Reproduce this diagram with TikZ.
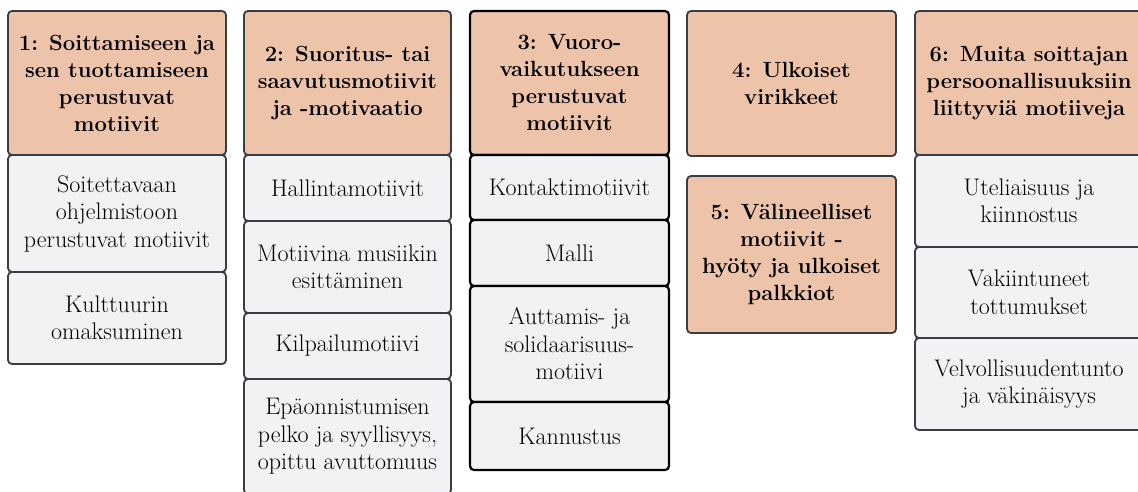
\documentclass[tikz,border=0pt]{standalone}
\definecolor{headfill}{HTML}{EDC3A9}
\definecolor{cellfill}{HTML}{F1F2F4}
\definecolor{edgegray}{HTML}{3A3E44}

\begin{document}
\begin{tikzpicture}[x=1pt, y=-1pt,
        box/.style={draw=edgegray, line width=1.8pt, rounded corners=4pt, align=center, inner sep=0pt},
        head/.style={box, fill=headfill, font=\fontsize{22}{27}\selectfont\bfseries},
        cell/.style={box, fill=cellfill, font=\fontsize{24}{27.5}\selectfont},
        dark/.style={draw=black, line width=2.2pt}]
            \fill[white] (0,0) rectangle (1138,491);
            \useasboundingbox (0,0) rectangle (1138,491);
            \node[head, minimum width=218pt, minimum height=144pt] (h1) at (117,83) {1: Soittamiseen ja\\sen tuottamiseen\\perustuvat\\motiivit};
            \node[cell, minimum width=218pt, minimum height=117pt] (c11) at (117,213.5) {Soitettavaan\\ohjelmistoon\\perustuvat motiivit};
            \node[cell, minimum width=218pt, minimum height=92pt] (c12) at (117,318) {Kulttuurin\\omaksuminen};
            \node[head, minimum width=207pt, minimum height=144pt] (h2) at (347.5,83) {2: Suoritus- tai\\saavutusmotiivit\\ja -motivaatio};
            \node[cell, minimum width=207pt, minimum height=66pt] (c21) at (347.5,188) {Hallintamotiivit};
            \node[cell, minimum width=207pt, minimum height=92pt] (c22) at (347.5,267) {Motiivina musiikin\\esittäminen};
            \node[cell, minimum width=207pt, minimum height=66pt] (c23) at (347.5,346) {Kilpailumotiivi};
            \node[cell, minimum width=207pt, minimum height=115pt] (c24) at (347.5,436.5) {Epäonnistumisen\\pelko ja syyllisyys,\\opittu avuttomuus};
            \node[head, dark, minimum width=199pt, minimum height=144pt] (h3) at (569.5,83) {3: Vuoro-\\vaikutukseen\\perustuvat\\motiivit};
            \node[cell, dark, minimum width=199pt, minimum height=65pt] (c31) at (569.5,187.5) {Kontaktimotiivit};
            \node[cell, dark, minimum width=199pt, minimum height=66pt] (c32) at (569.5,253) {Malli};
            \node[cell, dark, minimum width=199pt, minimum height=116pt] (c33) at (569.5,344) {Auttamis- ja\\solidaarisuus-\\motiivi};
            \node[cell, dark, minimum width=199pt, minimum height=68pt] (c34) at (569.5,436) {Kannustus};
            \node[head, minimum width=209pt, minimum height=145pt] (h4) at (791.5,83.5) {4: Ulkoiset\\virikkeet};
            \node[head, minimum width=209pt, minimum height=157pt] (h5) at (791.5,254.5) {5: Välineelliset\\motiivit -\\hyöty ja ulkoiset\\palkkiot};
            \node[head, minimum width=228pt, minimum height=144pt] (h6) at (1029,83) {6: Muita soittajan\\persoonallisuuksiin\\liittyviä motiiveja};
            \node[cell, minimum width=228pt, minimum height=92pt] (c61) at (1029,201) {Uteliaisuus ja\\kiinnostus};
            \node[cell, minimum width=228pt, minimum height=91pt] (c62) at (1029,292.5) {Vakiintuneet\\tottumukset};
            \node[cell, minimum width=228pt, minimum height=92pt] (c63) at (1029,384) {Velvollisuudentunto\\ja väkinäisyys};
        \end{tikzpicture}
\end{document}
